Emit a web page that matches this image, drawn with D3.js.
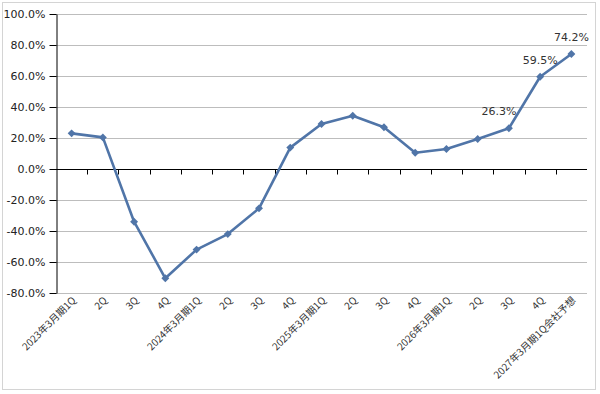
<!DOCTYPE html>
<html>
<head>
<meta charset="utf-8">
<script src="https://cdn.jsdelivr.net/npm/d3@7"></script>
<style>
  body { margin: 0; background: #fff; }
  text { font-family: "Noto Sans CJK JP", "DejaVu Sans", sans-serif; }
</style>
</head>
<body>
<div id="chart"></div>
<script>
let width = 600;
let height = 394;

// quarters (x categories)
let categories = ["2023年3月期1Q", "2Q", "3Q", "4Q",
	"2024年3月期1Q", "2Q", "3Q", "4Q",
	"2025年3月期1Q", "2Q", "3Q", "4Q",
	"2026年3月期1Q", "2Q", "3Q", "4Q",
	"2027年3月期1Q会社予想"];
// growth rate (%)
let values = [23.0, 20.4, -34.0, -70.5, -52.0, -42.0, -25.4, 13.8, 29.0, 34.4, 26.9, 10.5, 12.9, 19.4, 26.3, 59.5, 74.2];
// which points get a value label
let labelled = [14, 15, 16];
let yTicks = [100, 80, 60, 40, 20, 0, -20, -40, -60, -80];

let svg = d3.select("#chart").append("svg")
	.attr("width", width).attr("height", height);

// outer frame
svg.append("rect")
	.attr("x", 2.5).attr("y", 2.5)
	.attr("width", 593).attr("height", 387)
	.attr("fill", "#fff").attr("stroke", "#d4d4d4");

// categories repeat ("2Q" etc.), so the band scale works on indices
let x = d3.scaleBand().domain(d3.range(categories.length)).range([56, 587]);
let y = d3.scaleLinear().domain([-80, 100]).range([293, 14]);
let cx = i => x(i) + x.bandwidth() / 2;

// grid lines
svg.append("g").selectAll("line").data(yTicks.filter(d => d != 0))
	.join("line")
	.attr("x1", 56).attr("x2", 587)
	.attr("y1", d => Math.round(y(d)) + 0.5).attr("y2", d => Math.round(y(d)) + 0.5)
	.attr("stroke", "#bdbdbd");

// y axis
let yAxis = svg.append("g")
	.attr("transform", "translate(56.5,0)")
	.call(d3.axisLeft(y).tickValues(yTicks).tickSize(7).tickSizeOuter(0)
		.tickFormat(d => d.toFixed(1) + "%"));
yAxis.select(".domain").attr("stroke", "#000");
yAxis.selectAll(".tick line").attr("stroke", "#000");
yAxis.selectAll(".tick text")
	.attr("font-size", 11).attr("fill", "#222").attr("x", -11)
	.style("font-family", "'DejaVu Sans', sans-serif");

// x axis on zero line
let zeroY = Math.round(y(0)) + 0.5;
let xAxis = svg.append("g")
	.attr("transform", `translate(0,${zeroY})`);
xAxis.append("line").attr("x1", 56).attr("x2", 587).attr("stroke", "#000");
xAxis.selectAll(".xt").data(d3.range(1, categories.length))
	.join("line").attr("class", "xt")
	.attr("x1", i => Math.round(x(i)) + 0.5).attr("x2", i => Math.round(x(i)) + 0.5)
	.attr("y1", 0).attr("y2", 5)
	.attr("stroke", "#000");

// x labels, rotated, below the plot
svg.append("g").selectAll("text").data(categories)
	.join("text")
	.attr("transform", (d, i) => `translate(${cx(i) + 5},${301}) rotate(-45)`)
	.attr("text-anchor", "end")
	.attr("font-size", 10)
	.attr("fill", "#333")
	.text(d => d);

// line
svg.append("path").datum(values)
	.attr("fill", "none")
	.attr("stroke", "#5075a8")
	.attr("stroke-width", 2.6)
	.attr("stroke-linejoin", "round")
	.attr("d", d3.line().x((d, i) => cx(i)).y(d => y(d)));

// diamond markers
svg.append("g").selectAll("path").data(values)
	.join("path")
	.attr("transform", (d, i) => `translate(${cx(i)},${y(d)})`)
	.attr("d", d3.symbol(d3.symbolDiamond2, 40)())
	.attr("fill", "#5075a8");

// value labels
svg.append("g").selectAll("text").data(labelled)
	.join("text")
	.attr("x", i => cx(i) - (i == 14 ? 10 : 0))
	.attr("y", i => y(values[i]) - 13)
	.attr("text-anchor", "middle")
	.attr("font-size", 11)
	.attr("fill", "#333")
	.style("font-family", "'DejaVu Sans', sans-serif")
	.text(i => values[i].toFixed(1) + "%");
</script>
</body>
</html>
